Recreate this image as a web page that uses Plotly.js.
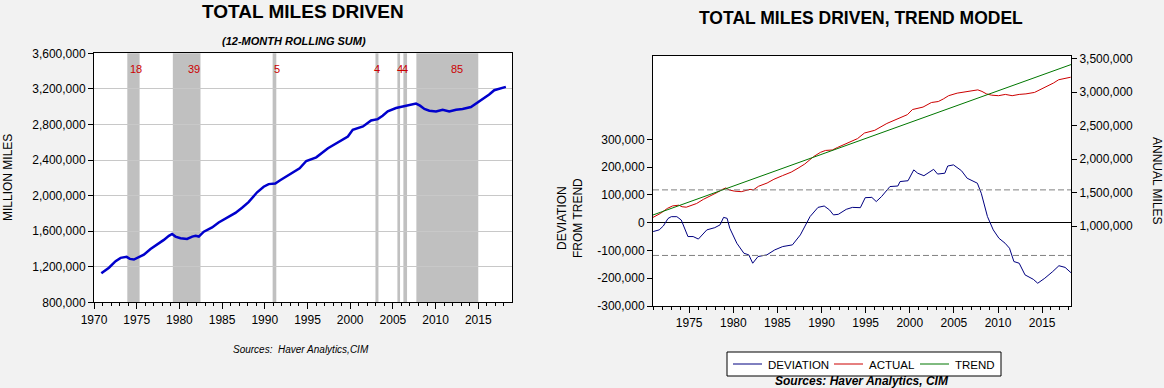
<!DOCTYPE html>
<html><head><meta charset="utf-8">
<script src="https://cdn.plot.ly/plotly-3.0.1.min.js"></script>
<style>html,body{margin:0;padding:0;background:#f2f2f2;overflow:hidden;} #chart{width:1164px;height:388px;}</style>
</head><body><div id="chart"></div>
<script>
// ---- data ----
const milesYears = [1970.86,1971.75,1972.53,1973.12,1973.82,1974.2,1974.67,1975.26,1975.84,1976.62,1977.4,1978.18,1978.77,1979.15,1979.54,1980.13,1980.9,1981.5,1981.9,1982.27,1982.86,1983.83,1984.6,1985.58,1986.56,1987.34,1988.1,1989.1,1989.87,1990.45,1991.23,1991.8,1992.6,1993.2,1994.08,1994.86,1996.03,1997.4,1998.75,1999.73,2000.3,2001.5,2002.45,2003.23,2003.8,2004.4,2005.37,2006.35,2007.13,2007.71,2008.18,2008.69,2009.27,2010.05,2010.83,2011.6,2012.4,2013.16,2014.14,2014.7,2015.5,2016.28,2016.87,2017.65,2018.23];
const milesValues = [1126000,1189000,1263000,1300000,1311000,1288000,1281000,1311000,1336000,1399000,1447000,1502000,1547000,1569000,1539000,1521000,1513000,1539000,1547000,1539000,1594000,1642000,1698000,1753000,1805000,1864000,1926000,2037000,2100000,2129000,2136000,2173000,2221000,2258000,2306000,2389000,2430000,2532000,2607000,2664000,2740000,2777000,2845000,2860000,2898000,2947000,2985000,3004000,3015000,3034000,3011000,2974000,2955000,2947000,2966000,2947000,2966000,2974000,2996000,3034000,3079000,3136000,3185000,3211000,3223000];

const devYears = [1970.92,1971.6,1972.07,1972.6,1972.97,1973.6,1974.1,1974.86,1975.45,1976.04,1977.0,1977.9,1978.5,1978.9,1979.3,1979.6,1980.4,1981.2,1981.76,1982.2,1982.8,1983.8,1984.7,1985.6,1986.7,1987.6,1988.7,1989.6,1990.3,1990.9,1991.35,1991.9,1992.8,1993.5,1994.4,1994.95,1995.7,1996.2,1996.8,1997.75,1998.65,1998.9,1999.8,2000.45,2000.9,2001.6,2002.7,2003.15,2003.97,2004.3,2004.95,2005.86,2006.5,2007.2,2007.66,2008.1,2008.8,2009.46,2010.1,2010.8,2011.3,2011.8,2012.4,2013.06,2014.0,2014.5,2015.3,2016.2,2016.9,2017.6,2018.26];
const devValues = [-32000,-26000,-12000,15000,21600,21600,9600,-50000,-50000,-59000,-26000,-18000,-8000,19000,15600,-20000,-74000,-110000,-116000,-146000,-122000,-116000,-98000,-86000,-80000,-44000,22000,55000,60000,46000,28000,30000,48000,55000,54000,90000,91000,76000,94000,130000,132000,148000,151000,190000,178000,169000,192000,175000,178000,204000,208000,187000,160000,148000,142000,106000,22000,-26000,-56000,-74000,-92000,-140000,-146000,-188000,-204000,-218000,-200000,-176000,-155000,-161000,-180000];

const trendYears = [1970.9, 2018.27];
const trendValues = [1165000, 3412000];

const bandStarts = [1973.9, 1979.23, 1990.92, 2002.96, 2005.53, 2006.23, 2007.75];
const bandEnds   = [1975.34, 1982.47, 1991.35, 2003.31, 2005.84, 2006.66, 2015.0];
const bandLabels = ['18', '39', '5', '4', '4', '4', '85'];
const bandLabelYears = [1974.91, 1981.72, 1991.47, 2003.16, 2005.88, 2006.38, 2012.52];

const leftTicks = [800000,1200000,1600000,2000000,2400000,2800000,3200000,3600000];
const devTicks = [-300000,-200000,-100000,0,100000,200000,300000];
const annualTicks = [1000000,1500000,2000000,2500000,3000000,3500000];
const devBandLevel = 118000;

const seriesNames = ['DEVIATION', 'ACTUAL', 'TREND'];
const seriesColors = ['#000080', '#cc0000', '#007700'];

// ---- layout helpers ----
const W = 1164, H = 388;
const px = x => x / W, py = y => 1 - y / H;
const FONT = 'Liberation Sans, Arial, Helvetica, sans-serif';
const fmt = v => v.toLocaleString('en-US');

const traces = [
  {x: milesYears, y: milesValues, xaxis: 'x', yaxis: 'y', type: 'scatter', mode: 'lines',
   line: {color: '#0000cc', width: 2.5}, showlegend: false, hoverinfo: 'skip'},
  {x: devYears, y: devValues, xaxis: 'x2', yaxis: 'y2', type: 'scatter', mode: 'lines',
   name: seriesNames[0], line: {color: seriesColors[0], width: 1}},
  {x: milesYears, y: milesValues, xaxis: 'x2', yaxis: 'y3', type: 'scatter', mode: 'lines',
   name: seriesNames[1], line: {color: seriesColors[1], width: 1}},
  {x: trendYears, y: trendValues, xaxis: 'x2', yaxis: 'y3', type: 'scatter', mode: 'lines',
   name: seriesNames[2], line: {color: seriesColors[2], width: 1}}
];

const shapes = [];
bandStarts.forEach((s, i) => shapes.push({type: 'rect', xref: 'x', yref: 'paper',
  x0: s, x1: bandEnds[i], y0: py(302.3), y1: py(53.3), fillcolor: '#c0c0c0', line: {width: 0}, layer: 'below'}));
[devBandLevel, -devBandLevel].forEach(v => shapes.push({type: 'line', xref: 'paper', yref: 'y2',
  x0: px(653), x1: px(1071), y0: v, y1: v, line: {color: '#808080', width: 1, dash: '6px,3px'}}));

const ann = [];
function txt(t, x, y, size, opts) {
  ann.push(Object.assign({text: t, x: px(x), y: py(y), xref: 'paper', yref: 'paper',
    showarrow: false, xanchor: 'center', yanchor: 'middle',
    font: {family: FONT, size: size, color: '#000'}}, opts || {}));
}
txt('<b>TOTAL MILES DRIVEN</b>', 303, 11, 19);
txt('<b><i>(12-MONTH ROLLING SUM)</i></b>', 294, 41.5, 11);
txt('MILLION MILES', 8, 178, 12, {textangle: -90});
txt('<i>Sources:  Haver Analytics,CIM</i>', 301, 349, 10);
txt('<b>TOTAL MILES DRIVEN, TREND MODEL</b>', 861, 18, 17.5);
txt('DEVIATION<br>FROM TREND', 570, 218, 12, {textangle: -90});
txt('ANNUAL MILES', 1157, 181, 12, {textangle: 90});
txt('<b><i>Sources: Haver Analytics, CIM</i></b>', 862, 381, 12);
bandLabels.forEach((l, i) => ann.push({text: l, x: bandLabelYears[i], xref: 'x', y: py(68.7), yref: 'paper',
  showarrow: false, xanchor: 'center', yanchor: 'middle', font: {family: FONT, size: 11, color: '#cc0000'}}));

// legend box drawn by hand (box 727-1001 x 352-376)
shapes.push({type: 'rect', xref: 'paper', yref: 'paper', x0: px(727), x1: px(1001), y0: py(376), y1: py(352),
  fillcolor: '#ffffff', line: {color: '#000', width: 1}});
const legLineX = [733, 834, 920];
legLineX.forEach((x, i) => {
  shapes.push({type: 'line', xref: 'paper', yref: 'paper', x0: px(x), x1: px(x + 29), y0: py(364), y1: py(364),
    line: {color: seriesColors[i], width: 1}});
  txt(seriesNames[i], x + 33, 364.5, 11.5, {xanchor: 'left'});
});

const tickFont = {family: FONT, size: 12, color: '#000'};
const layout = {
  width: W, height: H, margin: {l: 0, r: 0, t: 0, b: 0},
  paper_bgcolor: '#f2f2f2', plot_bgcolor: '#ffffff',
  font: {family: FONT, size: 12, color: '#000'},
  showlegend: false,
  xaxis: {domain: [px(94), px(512)], anchor: 'y', range: [1970, 2018.95], tick0: 1970, dtick: 5,
    ticks: 'outside', ticklen: 6, tickcolor: '#000', showgrid: false, zeroline: false,
    showline: true, mirror: true, linecolor: '#000', linewidth: 1, tickfont: tickFont,
    minor: {dtick: 1, tick0: 1970, ticks: 'outside', ticklen: 3, tickcolor: '#000', showgrid: false}},
  yaxis: {domain: [py(302.3), py(53.3)], anchor: 'x', range: [800000, 3600000],
    tickvals: leftTicks, ticktext: leftTicks.map(fmt), ticks: 'outside', ticklen: 5, tickcolor: '#000',
    showgrid: true, gridcolor: '#c8c8c8', gridwidth: 1, zeroline: false,
    showline: true, mirror: true, linecolor: '#000', linewidth: 1, tickfont: tickFont},
  xaxis2: {domain: [px(653), px(1071)], anchor: 'y2', range: [1970.9, 2018.27], tick0: 1975, dtick: 5,
    ticks: 'outside', ticklen: 6, tickcolor: '#000', showgrid: false, zeroline: false,
    showline: true, mirror: true, linecolor: '#000', linewidth: 1, tickfont: tickFont,
    minor: {dtick: 1, tick0: 1970, ticks: 'outside', ticklen: 3, tickcolor: '#000', showgrid: false}},
  yaxis2: {domain: [py(306), py(56)], anchor: 'x2', range: [-300000, 600000],
    tickvals: devTicks, ticktext: devTicks.map(fmt), ticks: 'outside', ticklen: 5, tickcolor: '#000',
    showgrid: false, zeroline: true, zerolinecolor: '#000', zerolinewidth: 1,
    showline: true, linecolor: '#000', linewidth: 1, tickfont: tickFont},
  yaxis3: {overlaying: 'y2', side: 'right', anchor: 'x2', range: [-195000, 3540000],
    tickvals: annualTicks, ticktext: annualTicks.map(fmt), ticks: 'outside', ticklen: 5, tickcolor: '#000',
    showgrid: false, zeroline: false, showline: true, linecolor: '#000', linewidth: 1, tickfont: tickFont},
  shapes: shapes,
  annotations: ann
};

Plotly.newPlot('chart', traces, layout, {staticPlot: true, displayModeBar: false});
</script>
</body></html>
